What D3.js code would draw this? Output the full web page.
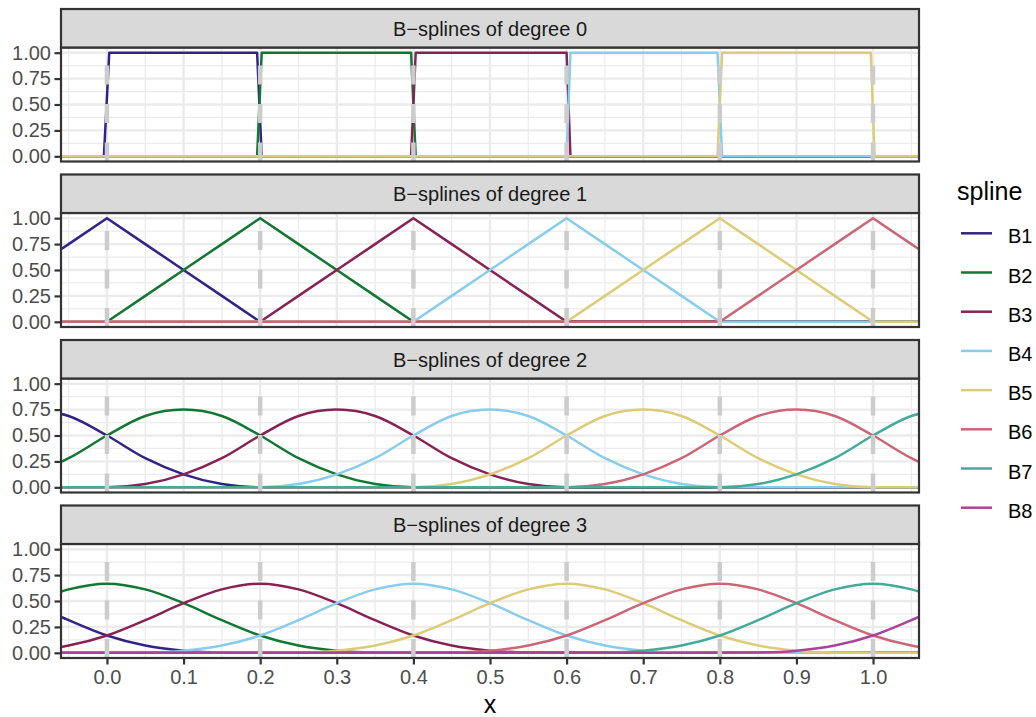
<!DOCTYPE html>
<html>
<head>
<meta charset="utf-8">
<script src="https://cdn.jsdelivr.net/npm/d3@7"></script>
<style>
  body { margin: 0; background: #ffffff; }
  svg { display: block; }
  text { font-family: "Liberation Sans", Arial, Helvetica, sans-serif; }
</style>
</head>
<body>
<svg id="chart" width="1036" height="717"></svg>
<script>
// ---- data -------------------------------------------------------------
const splineNames = ["B1", "B2", "B3", "B4", "B5", "B6", "B7", "B8"];
const splineColors = ["#332288", "#117733", "#882255", "#88CCEE",
                      "#DDCC77", "#CC6677", "#44AA99", "#AA4499"];
const panelTitles = ["B\u2212splines of degree 0", "B\u2212splines of degree 1",
                     "B\u2212splines of degree 2", "B\u2212splines of degree 3"];
const knots = [0, 0.2, 0.4, 0.6, 0.8, 1.0];
const xTicks = [0, 0.1, 0.2, 0.3, 0.4, 0.5, 0.6, 0.7, 0.8, 0.9, 1.0];
const yTicks = [0, 0.25, 0.5, 0.75, 1];

// degree 0: piecewise constant, sampled around each jump
const stepX = [-0.06, -0.004, 0.003, 0.196, 0.202, 0.397, 0.403,
               0.600, 0.605, 0.797, 0.803, 0.997, 1.002, 1.06];
const degree0 = [
  [0, 0, 1, 1, 0, 0, 0, 0, 0, 0, 0, 0, 0, 0],
  [0, 0, 0, 0, 1, 1, 0, 0, 0, 0, 0, 0, 0, 0],
  [0, 0, 0, 0, 0, 0, 1, 1, 0, 0, 0, 0, 0, 0],
  [0, 0, 0, 0, 0, 0, 0, 0, 1, 1, 0, 0, 0, 0],
  [0, 0, 0, 0, 0, 0, 0, 0, 0, 0, 1, 1, 0, 0]
];

// degrees 1-3: values on a regular x grid
const gridX = [-0.10, -0.05, 0.00, 0.05, 0.10, 0.15, 0.20, 0.25, 0.30, 0.35,
               0.40, 0.45, 0.50, 0.55, 0.60, 0.65, 0.70, 0.75, 0.80, 0.85,
               0.90, 0.95, 1.00, 1.05, 1.10];

const degree1 = [
  [0.5, 0.75, 1, 0.75, 0.5,  0.25, 0, 0, 0, 0,  0, 0, 0, 0, 0,  0, 0, 0, 0, 0,  0, 0, 0, 0, 0],
  [0, 0, 0, 0.25, 0.5,  0.75, 1, 0.75, 0.5, 0.25,  0, 0, 0, 0, 0,  0, 0, 0, 0, 0,  0, 0, 0, 0, 0],
  [0, 0, 0, 0, 0,  0, 0, 0.25, 0.5, 0.75,  1, 0.75, 0.5, 0.25, 0,  0, 0, 0, 0, 0,  0, 0, 0, 0, 0],
  [0, 0, 0, 0, 0,  0, 0, 0, 0, 0,  0, 0.25, 0.5, 0.75, 1,  0.75, 0.5, 0.25, 0, 0,  0, 0, 0, 0, 0],
  [0, 0, 0, 0, 0,  0, 0, 0, 0, 0,  0, 0, 0, 0, 0,  0.25, 0.5, 0.75, 1, 0.75,  0.5, 0.25, 0, 0, 0],
  [0, 0, 0, 0, 0,  0, 0, 0, 0, 0,  0, 0, 0, 0, 0,  0, 0, 0, 0, 0.25,  0.5, 0.75, 1, 0.75, 0.5]
];

const degree2 = [
  [0.75, 0.688, 0.5, 0.281, 0.125,  0.031, 0, 0, 0, 0,  0, 0, 0, 0, 0,  0, 0, 0, 0, 0,  0, 0, 0, 0, 0],
  [0.125, 0.281, 0.5, 0.688, 0.75,  0.688, 0.5, 0.281, 0.125, 0.031,  0, 0, 0, 0, 0,  0, 0, 0, 0, 0,  0, 0, 0, 0, 0],
  [0, 0, 0, 0.031, 0.125,  0.281, 0.5, 0.688, 0.75, 0.688,  0.5, 0.281, 0.125, 0.031, 0,  0, 0, 0, 0, 0,  0, 0, 0, 0, 0],
  [0, 0, 0, 0, 0,  0, 0, 0.031, 0.125, 0.281,  0.5, 0.688, 0.75, 0.688, 0.5,  0.281, 0.125, 0.031, 0, 0,  0, 0, 0, 0, 0],
  [0, 0, 0, 0, 0,  0, 0, 0, 0, 0,  0, 0.031, 0.125, 0.281, 0.5,  0.688, 0.75, 0.688, 0.5, 0.281,  0.125, 0.031, 0, 0, 0],
  [0, 0, 0, 0, 0,  0, 0, 0, 0, 0,  0, 0, 0, 0, 0,  0.031, 0.125, 0.281, 0.5, 0.688,  0.75, 0.688, 0.5, 0.281, 0.125],
  [0, 0, 0, 0, 0,  0, 0, 0, 0, 0,  0, 0, 0, 0, 0,  0, 0, 0, 0, 0.031,  0.125, 0.281, 0.5, 0.688, 0.75]
];

const degree3 = [
  [0.479, 0.315, 0.167, 0.070, 0.021,  0.003, 0, 0, 0, 0,  0, 0, 0, 0, 0,  0, 0, 0, 0, 0,  0, 0, 0, 0, 0],
  [0.479, 0.612, 0.667, 0.612, 0.479,  0.315, 0.167, 0.070, 0.021, 0.003,  0, 0, 0, 0, 0,  0, 0, 0, 0, 0,  0, 0, 0, 0, 0],
  [0.021, 0.070, 0.167, 0.315, 0.479,  0.612, 0.667, 0.612, 0.479, 0.315,  0.167, 0.070, 0.021, 0.003, 0,  0, 0, 0, 0, 0,  0, 0, 0, 0, 0],
  [0, 0, 0, 0.003, 0.021,  0.070, 0.167, 0.315, 0.479, 0.612,  0.667, 0.612, 0.479, 0.315, 0.167,  0.070, 0.021, 0.003, 0, 0,  0, 0, 0, 0, 0],
  [0, 0, 0, 0, 0,  0, 0, 0.003, 0.021, 0.070,  0.167, 0.315, 0.479, 0.612, 0.667,  0.612, 0.479, 0.315, 0.167, 0.070,  0.021, 0.003, 0, 0, 0],
  [0, 0, 0, 0, 0,  0, 0, 0, 0, 0,  0, 0.003, 0.021, 0.070, 0.167,  0.315, 0.479, 0.612, 0.667, 0.612,  0.479, 0.315, 0.167, 0.070, 0.021],
  [0, 0, 0, 0, 0,  0, 0, 0, 0, 0,  0, 0, 0, 0, 0,  0.003, 0.021, 0.070, 0.167, 0.315,  0.479, 0.612, 0.667, 0.612, 0.479],
  [0, 0, 0, 0, 0,  0, 0, 0, 0, 0,  0, 0, 0, 0, 0,  0, 0, 0, 0, 0.003,  0.021, 0.070, 0.167, 0.315, 0.479]
];

// ---- layout -----------------------------------------------------------
const svg = d3.select("#chart");
const panelLeft = 61, panelRight = 919;
const panelH = 114, stripH = 38.5;
const panelTops = [47.5, 213, 378.5, 544];

const panels = [
  { title: panelTitles[0], xs: stepX, rows: degree0, curve: d3.curveLinear },
  { title: panelTitles[1], xs: gridX, rows: degree1, curve: d3.curveLinear },
  { title: panelTitles[2], xs: gridX, rows: degree2, curve: d3.curveMonotoneX },
  { title: panelTitles[3], xs: gridX, rows: degree3, curve: d3.curveMonotoneX }
];

const x = d3.scaleLinear().domain([-0.06, 1.06]).range([panelLeft, panelRight]);
const y = d3.scaleLinear().domain([-0.05, 1.05]).range([panelH, 0]);
const xMinor = [-0.05, 0.05, 0.15, 0.25, 0.35, 0.45, 0.55, 0.65, 0.75, 0.85, 0.95, 1.05];
const yMinor = [0.125, 0.375, 0.625, 0.875];

svg.append("rect").attr("width", 1036).attr("height", 717).attr("fill", "#ffffff");

panels.forEach((p, i) => {
  const g = svg.append("g").attr("transform", `translate(0,${panelTops[i]})`);

  // panel background + grid
  g.append("rect").attr("x", panelLeft).attr("y", 0)
    .attr("width", panelRight - panelLeft).attr("height", panelH).attr("fill", "#ffffff");

  g.selectAll("line.xminor").data(xMinor).join("line")
    .attr("x1", d => x(d)).attr("x2", d => x(d)).attr("y1", 0).attr("y2", panelH)
    .attr("stroke", "#EBEBEB").attr("stroke-width", 1.2);
  g.selectAll("line.yminor").data(yMinor).join("line")
    .attr("x1", panelLeft).attr("x2", panelRight).attr("y1", d => y(d)).attr("y2", d => y(d))
    .attr("stroke", "#EBEBEB").attr("stroke-width", 1.2);
  g.selectAll("line.xmajor").data(xTicks).join("line")
    .attr("x1", d => x(d)).attr("x2", d => x(d)).attr("y1", 0).attr("y2", panelH)
    .attr("stroke", "#EBEBEB").attr("stroke-width", 2.4);
  g.selectAll("line.ymajor").data(yTicks).join("line")
    .attr("x1", panelLeft).attr("x2", panelRight).attr("y1", d => y(d)).attr("y2", d => y(d))
    .attr("stroke", "#EBEBEB").attr("stroke-width", 2.4);

  // clip curves to the panel
  const clipId = `clip-${i}`;
  g.append("clipPath").attr("id", clipId).append("rect")
    .attr("x", panelLeft).attr("y", 0).attr("width", panelRight - panelLeft).attr("height", panelH);

  const line = d3.line()
    .x((d, k) => x(p.xs[k]))
    .y(d => y(d))
    .curve(p.curve);

  const curves = g.append("g").attr("clip-path", `url(#${clipId})`);
  curves.selectAll("path").data(p.rows).join("path")
    .attr("d", d => line(d))
    .attr("fill", "none")
    .attr("stroke", (d, k) => splineColors[k])
    .attr("stroke-width", 2.5)
    .attr("stroke-linejoin", "round")
    .attr("stroke-linecap", "butt");

  // knot positions
  curves.selectAll("line.knot").data(knots).join("line")
    .attr("x1", d => x(d)).attr("x2", d => x(d))
    .attr("y1", panelH).attr("y2", 0)
    .attr("stroke", "#CCCCCC").attr("stroke-width", 4.5)
    .attr("stroke-dasharray", "19 19.5");

  // panel border
  g.append("rect").attr("x", panelLeft).attr("y", 0)
    .attr("width", panelRight - panelLeft).attr("height", panelH)
    .attr("fill", "none").attr("stroke", "#333333").attr("stroke-width", 2.2);

  // strip
  g.append("rect").attr("x", panelLeft).attr("y", -stripH)
    .attr("width", panelRight - panelLeft).attr("height", stripH)
    .attr("fill", "#D9D9D9").attr("stroke", "#333333").attr("stroke-width", 2.2);
  g.append("text")
    .attr("x", (panelLeft + panelRight) / 2).attr("y", -11.8)
    .attr("text-anchor", "middle").attr("font-size", 20).attr("fill", "#1A1A1A")
    .text(p.title);

  // y axis
  const yAxis = g.append("g").attr("transform", `translate(${panelLeft},0)`)
    .call(d3.axisLeft(y).tickValues(yTicks).tickFormat(d3.format(".2f"))
      .tickSize(6.5).tickPadding(3.5));
  yAxis.select(".domain").remove();
  yAxis.selectAll(".tick line").attr("stroke", "#333333").attr("stroke-width", 2.2);
  yAxis.selectAll(".tick text").attr("fill", "#4D4D4D").attr("font-size", 20)
    .attr("font-family", "Liberation Sans, Arial, sans-serif");

  // x axis only under the last panel
  if (i === panels.length - 1) {
    const xAxis = g.append("g").attr("transform", `translate(0,${panelH})`)
      .call(d3.axisBottom(x).tickValues(xTicks).tickFormat(d3.format(".1f"))
        .tickSize(6.5).tickPadding(5.5));
    xAxis.select(".domain").remove();
    xAxis.selectAll(".tick line").attr("stroke", "#333333").attr("stroke-width", 2.2);
    xAxis.selectAll(".tick text").attr("fill", "#4D4D4D").attr("font-size", 20)
      .attr("font-family", "Liberation Sans, Arial, sans-serif");
  }
});

// x title
svg.append("text").attr("x", (panelLeft + panelRight) / 2).attr("y", 713)
  .attr("text-anchor", "middle").attr("font-size", 25).attr("fill", "#000000").text("x");

// legend
const legend = svg.append("g");
legend.append("text").attr("x", 957).attr("y", 200)
  .attr("font-size", 25).attr("fill", "#000000").text("spline");
const keyY = d3.scaleLinear().domain([0, 7]).range([233.3, 507.7]);
const keys = legend.selectAll("g.key").data(splineNames).join("g")
  .attr("transform", (d, k) => `translate(0,${keyY(k)})`);
keys.append("line").attr("x1", 961).attr("x2", 992).attr("y1", 0).attr("y2", 0)
  .attr("stroke", (d, k) => splineColors[k]).attr("stroke-width", 2.5);
keys.append("text").attr("x", 1008).attr("y", 10)
  .attr("font-size", 20).attr("fill", "#000000").text(d => d);
</script>
</body>
</html>
